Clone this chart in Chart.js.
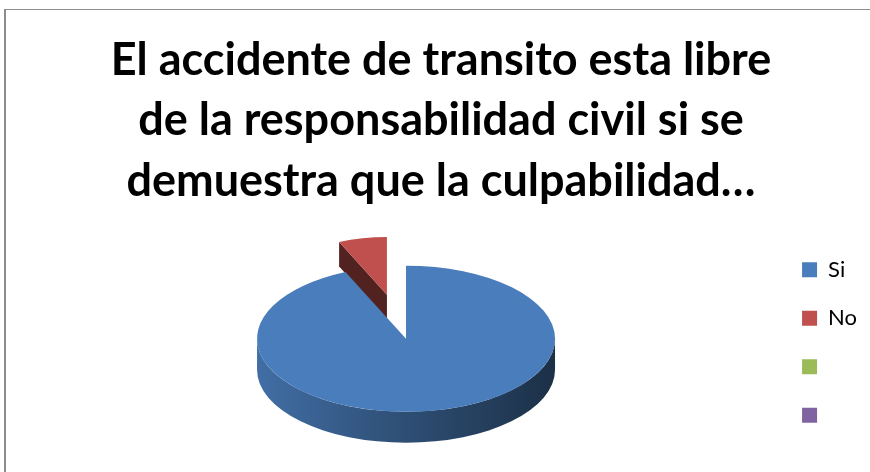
<!DOCTYPE html>
<html>
<head>
<meta charset="utf-8">
<script src="https://cdn.jsdelivr.net/npm/chart.js@4/dist/chart.umd.min.js"></script>
<style>
  html, body { margin: 0; padding: 0; background: #fff; }
  #frame {
    position: absolute; left: 4px; top: 9px;
    width: 864px; height: 463px;
    border-left: 2px solid #8c8c8c; border-top: 1px solid #8c8c8c;
  }
  #chart { display: block; }
</style>
</head>
<body>
<div id="frame"><canvas id="chart" width="864" height="462"></canvas></div>
<script>
// respuestas de la encuesta
var labels = ['Si', 'No', '', ''];
var counts = [14, 1, 0, 0];
var colors = ['#4A7DBB', '#C0504D', '#9BBB59', '#8064A2'];
var titleLines = [
  'El accidente de transito esta libre',
  'de la responsabilidad civil si se',
  'demuestra que la culpabilidad…'
];

function shade(hex, f) {
  var n = parseInt(hex.slice(1), 16);
  var r = Math.round(((n >> 16) & 255) * f);
  var g = Math.round(((n >> 8) & 255) * f);
  var b = Math.round((n & 255) * f);
  return 'rgb(' + r + ',' + g + ',' + b + ')';
}

// pie "3D": aplasta el circulo, le pone los lados y achica lo que queda atras
var pie3d = {
  id: 'pie3d',
  beforeDatasetsDraw: function(chart, args, opts) {
    var ctx = chart.ctx;
    var meta = chart.getDatasetMeta(0);
    var k = opts.tilt;
    var slices = meta.data.map(function(arc, i) {
      var p = arc.getProps(['x', 'y', 'startAngle', 'endAngle', 'outerRadius']);
      var ex = opts.explode[i] || 0;
      var mid = (p.startAngle + p.endAngle) / 2;
      var dx = Math.cos(mid) * ex, dy = Math.sin(mid) * ex;
      var f = 1 + opts.perspective * dy / p.outerRadius;
      return {arc: arc, i: i, p: p, f: f, cx: p.x + dx, cy: p.y + dy * k};
    });

    // lados
    slices.forEach(function(s) {
      var p = s.p;
      if (p.endAngle - p.startAngle <= 0) return;
      var cx = s.cx, cy = s.cy, r = p.outerRadius * s.f, ry = r * k, depth = opts.depth * s.f;
      var col = colors[s.i];

      // caras radiales
      ctx.fillStyle = shade(col, 0.42);
      [[p.startAngle, Math.cos(p.startAngle) < -1e-6], [p.endAngle, Math.cos(p.endAngle) > 1e-6]].forEach(function(e) {
        if (!e[1]) return;
        var ox = cx + r * Math.cos(e[0]), oy = cy + ry * Math.sin(e[0]);
        ctx.beginPath();
        ctx.moveTo(cx, cy);
        ctx.lineTo(ox, oy);
        ctx.lineTo(ox, oy + depth);
        ctx.lineTo(cx, cy + depth);
        ctx.closePath();
        ctx.fill();
      });

      // borde exterior (solo la mitad de adelante)
      var grad = ctx.createLinearGradient(cx - r, 0, cx + r, 0);
      grad.addColorStop(0, shade(col, 0.88));
      grad.addColorStop(0.5, shade(col, 0.62));
      grad.addColorStop(1, shade(col, 0.38));
      [-2, 0, 2].forEach(function(t) {
        var a = Math.max(p.startAngle, t * Math.PI);
        var b = Math.min(p.endAngle, (t + 1) * Math.PI);
        if (b <= a) return;
        ctx.beginPath();
        ctx.ellipse(cx, cy, r, ry, 0, a, b, false);
        ctx.ellipse(cx, cy + depth, r, ry, 0, b, a, true);
        ctx.closePath();
        ctx.fillStyle = grad;
        ctx.fill();
      });
    });

    // tapas
    slices.forEach(function(s) {
      var p = s.p;
      ctx.save();
      ctx.translate(s.cx, s.cy);
      ctx.scale(s.f, s.f * k);
      ctx.translate(-p.x, -p.y);
      s.arc.draw(ctx);
      ctx.restore();
    });
    return false;
  }
};

new Chart(document.getElementById('chart'), {
  type: 'pie',
  data: {
    labels: labels,
    datasets: [{
      data: counts,
      backgroundColor: colors,
      borderWidth: 0,
      radius: 149
    }]
  },
  options: {
    responsive: false,
    animation: false,
    events: [],
    layout: { padding: { left: 9, right: 3, bottom: 6 } },
    plugins: {
      title: {
        display: true,
        text: titleLines,
        color: '#000',
        font: { family: 'Lato', size: 45, weight: 'bold', lineHeight: 1.344 },
        padding: { top: 20, bottom: 0 }
      },
      legend: {
        position: 'right',
        fullSize: false,
        // titulo vacio: solo baja un poco la columna
        title: { display: true, text: '', padding: 0, font: { size: 29, lineHeight: 1 } },
        labels: {
          boxWidth: 15,
          boxHeight: 15,
          padding: 5,
          font: { family: 'Lato', size: 22, lineHeight: 43.5 / 22 },
          // texto como arreglo para que cada fila tome el alto de lineHeight
          generateLabels: function() {
            return labels.map(function(t, i) {
              return {
                text: [t], fillStyle: colors[i], strokeStyle: colors[i],
                lineWidth: 0, hidden: false, index: i, fontColor: '#000'
              };
            });
          }
        }
      },
      tooltip: { enabled: false },
      pie3d: { tilt: 0.49, depth: 31, explode: [0, 92, 0, 0], perspective: 0.35 }
    }
  },
  plugins: [pie3d]
});
</script>
</body>
</html>
